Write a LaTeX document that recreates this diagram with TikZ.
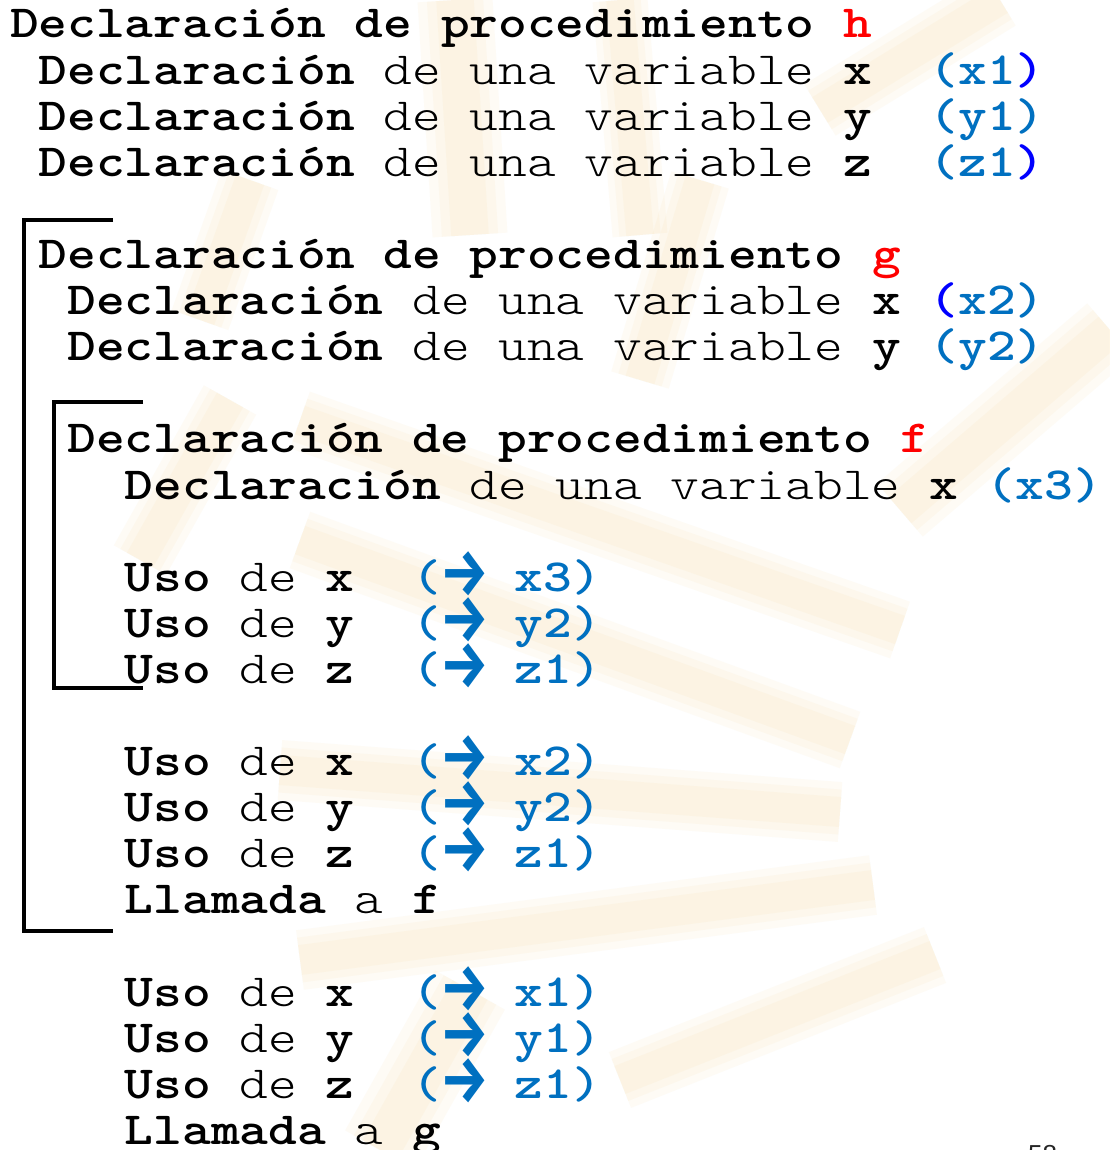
\documentclass[tikz,border=0pt]{standalone}
\usepackage{fontspec}
\setmonofont{lmmonolt10}[Extension=.otf, UprightFont=*-regular, BoldFont=*-bold, FakeStretch=1.19]
\newfontfamily\arrowfont{Fira Sans}
\newfontfamily\pagefont{Liberation Sans}
\definecolor{lblue}{RGB}{0,112,192}
\definecolor{dblue}{RGB}{0,0,255}
\definecolor{hred}{RGB}{255,0,0}
\definecolor{raycol}{RGB}{245,185,70}
\newcommand\bd[1]{\textbf{#1}}
\newcommand\lb[1]{\textcolor{lblue}{\textbf{#1}}}
\newcommand\db[1]{\textcolor{dblue}{\textbf{#1}}}
\newcommand\rd[1]{\textcolor{hred}{\textbf{#1}}}
\newcommand\arw{\makebox[45.3pt][c]{\hspace{3pt}\raisebox{-4pt}{\scalebox{0.9}[1.1]{\arrowfont\bfseries\fontsize{60pt}{60pt}\selectfont →}}}}
\tikzset{
  ln/.style={anchor=base west, inner sep=0pt, outer sep=0pt,
    font=\ttfamily\fontsize{46pt}{46pt}\selectfont},
  br/.style={line width=4.5pt, draw=black},
  softray/.style={draw=raycol, line cap=butt, draw opacity=0.05}
}
\newcommand\softline[3]{%
  \draw[softray, line width=#3pt] #1 -- #2;
  \draw[softray, line width=0.75*#3pt] #1 -- #2;
  \draw[softray, line width=0.5*#3pt] #1 -- #2;
}
\begin{document}
\begin{tikzpicture}[x=1pt,y=-1pt]
\useasboundingbox (0,0) rectangle (1109,1150);
\fill[white] (0,0) rectangle (1109,1150);
% faint sunburst watermark
\softline{(455,0)}{(470,235)}{75}
\softline{(620,0)}{(640,235)}{55}
\softline{(700,180)}{(640,380)}{60}
\softline{(1000,0)}{(820,110)}{60}
\softline{(1110,330)}{(900,510)}{70}
\softline{(300,420)}{(900,630)}{60}
\softline{(300,540)}{(850,740)}{60}
\softline{(280,770)}{(840,812)}{60}
\softline{(300,960)}{(873,885)}{60}
\softline{(620,1080)}{(935,955)}{60}
\softline{(250,180)}{(200,320)}{60}
\softline{(230,400)}{(140,560)}{60}
\softline{(470,990)}{(380,1150)}{80}
% brackets
\coordinate (oT) at (113,220);
\coordinate (oTL) at (24,220);
\coordinate (oBL) at (24,931);
\coordinate (oB) at (113,931);
\draw[br] (oT) -- (oTL) -- (oBL) -- (oB);
\coordinate (iT) at (143,402);
\coordinate (iTL) at (54,402);
\coordinate (iBL) at (54,688);
\coordinate (iB) at (143,688);
\draw[br] (iT) -- (iTL) -- (iBL) -- (iB);
% text lines
\node[ln] (l0) at (10,38) {\bd{Declaración~de~procedimiento~}\rd{h}};
\node[ln] (l1) at (38.7,84.1) {\bd{Declaración}~de~una~variable~\bd{x}~~\lb{(x1}\db{)}};
\node[ln] (l2) at (38.7,130.2) {\bd{Declaración}~de~una~variable~\bd{y}~~\lb{(y1)}};
\node[ln] (l3) at (38.7,176.3) {\bd{Declaración}~de~una~variable~\bd{z}~~\lb{(z1}\db{)}};
\node[ln] (l5) at (38.7,268.5) {\bd{Declaración~de~procedimiento~}\rd{g}};
\node[ln] (l6) at (67.4,314.6) {\bd{Declaración}~de~una~variable~\bd{x}~\db{(}\lb{x2)}};
\node[ln] (l7) at (67.4,360.7) {\bd{Declaración}~de~una~variable~\bd{y}~\lb{(y2)}};
\node[ln] (l9) at (67.4,452.9) {\bd{Declaración~de~procedimiento~}\rd{f}};
\node[ln] (l10) at (124.8,499) {\bd{Declaración}~de~una~variable~\bd{x}~\lb{(x3)}};
\node[ln] (l12) at (124.8,591.2) {\bd{Uso}~de~\bd{x}~~\lb{(\arw~x3)}};
\node[ln] (l13) at (124.8,637.3) {\bd{Uso}~de~\bd{y}~~\lb{(\arw~y2)}};
\node[ln] (l14) at (124.8,683.4) {\bd{Uso}~de~\bd{z}~~\lb{(\arw~z1)}};
\node[ln] (l16) at (124.8,775.6) {\bd{Uso}~de~\bd{x}~~\lb{(\arw~x2)}};
\node[ln] (l17) at (124.8,821.7) {\bd{Uso}~de~\bd{y}~~\lb{(\arw~y2)}};
\node[ln] (l18) at (124.8,867.8) {\bd{Uso}~de~\bd{z}~~\lb{(\arw~z1)}};
\node[ln] (l19) at (124.8,913.9) {\bd{Llamada}~a~\bd{f}};
\node[ln] (l21) at (124.8,1006.1) {\bd{Uso}~de~\bd{x}~~\lb{(\arw~x1)}};
\node[ln] (l22) at (124.8,1052.2) {\bd{Uso}~de~\bd{y}~~\lb{(\arw~y1)}};
\node[ln] (l23) at (124.8,1098.3) {\bd{Uso}~de~\bd{z}~~\lb{(\arw~z1)}};
\node[ln] (l24) at (124.8,1144.4) {\bd{Llamada}~a~\bd{g}};
\node[anchor=base west, inner sep=0pt, font=\pagefont\fontsize{26pt}{26pt}\selectfont, text=black!85] (pg) at (1028,1163) {58};
\end{tikzpicture}
\end{document}
